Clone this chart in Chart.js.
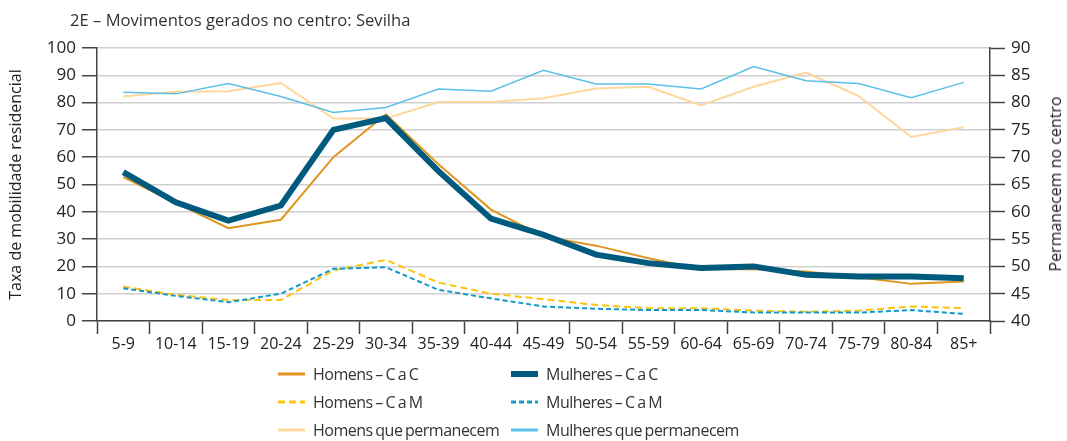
<!DOCTYPE html>
<html><head><meta charset="utf-8">
<script src="https://cdn.jsdelivr.net/npm/chart.js@4.4.1/dist/chart.umd.min.js"></script>
<style>
html,body{margin:0;padding:0;background:#fff;}
#wrap{position:relative;width:1067px;height:441px;font-family:"Open Sans",sans-serif;color:#333;overflow:hidden;}
#c{position:absolute;left:0;top:0;}
#title{position:absolute;left:70px;top:8px;font-size:16.6px;color:#333;white-space:nowrap;}
#rtitle{position:absolute;left:1055px;top:184px;font-size:16px;color:#222;white-space:nowrap;transform:translate(-50%,-50%) rotate(-90deg);}
.leg{position:absolute;font-size:16px;letter-spacing:-0.5px;word-spacing:-1px;color:#333;white-space:nowrap;display:flex;align-items:center;height:20px;}
.leg canvas{margin-right:8px;}
</style></head>
<body>
<div id="wrap">
<canvas id="c" width="1067" height="441"></canvas>
<div id="title">2E – Movimentos gerados no centro: Sevilha</div>
<div id="rtitle"></div>
</div>
<script>
const categories = ['5-9','10-14','15-19','20-24','25-29','30-34','35-39','40-44','45-49','50-54','55-59','60-64','65-69','70-74','75-79','80-84','85+'];
const homensCaC    = [52.7,43.3,34.0,37.1,60.0,75.7,57.4,40.8,31.0,27.6,23.0,19.0,19.0,18.1,16.0,13.6,14.5];
const mulheresCaC  = [54.5,43.5,36.8,42.3,70.0,74.3,54.9,37.5,31.6,24.3,21.2,19.4,20.0,16.9,16.3,16.3,15.7];
const homensCaM    = [12.6,9.6,7.7,7.7,18.5,22.4,14.1,10.0,8.0,5.9,4.7,4.7,3.8,3.4,3.8,5.3,4.7];
const mulheresCaM  = [12.0,9.2,6.9,10.0,19.1,19.7,11.4,8.3,5.3,4.5,4.0,4.0,3.1,3.1,3.1,4.0,2.6];
const homensPerm   = [81.1,82.0,82.1,83.6,77.1,77.1,80.1,80.1,80.8,82.6,82.9,79.5,82.9,85.5,81.2,73.7,75.5];
const mulheresPerm = [81.9,81.6,83.5,81.1,78.2,79.1,82.5,82.1,85.9,83.4,83.4,82.5,86.6,84.0,83.5,80.9,83.7];
const leftTitle = 'Taxa de mobilidade residencial';
const rightTitle = 'Permanecem no centro';

const FONT = '"Open Sans", sans-serif';
const AX = '#444';

const datasets = [
  {label:'Homens – C a C', data:homensCaC, borderColor:'#E0961E', borderWidth:2, yAxisID:'y', order:2, legendW:3},
  {label:'Mulheres – C a C', data:mulheresCaC, borderColor:'#005A7D', borderWidth:6, yAxisID:'y', order:1, legendW:6},
  {label:'Homens – C a M', data:homensCaM, borderColor:'#FFC20E', borderWidth:2, borderDash:[7,4], yAxisID:'y', order:4, legendW:3},
  {label:'Mulheres – C a M', data:mulheresCaM, borderColor:'#1199C8', borderWidth:2, borderDash:[5,3], yAxisID:'y', order:3, legendW:3},
  {label:'Homens que permanecem', data:homensPerm, borderColor:'#FFD69C', borderWidth:2, yAxisID:'y1', order:6, legendW:3},
  {label:'Mulheres que permanecem', data:mulheresPerm, borderColor:'#5BC0E8', borderWidth:1.5, yAxisID:'y1', order:5, legendW:3}
];
datasets.forEach(d=>{d.pointRadius=0; d.fill=false; d.tension=0;});

document.getElementById('rtitle').textContent = rightTitle;

const tickFont = {family:FONT, size:16};
const chart = new Chart(document.getElementById('c'), {
  type:'line',
  data:{labels:categories, datasets:datasets},
  options:{
    responsive:false, animation:false,
    layout:{padding:{top:48,left:0,right:0,bottom:0}},
    plugins:{legend:{display:false}, tooltip:{enabled:false}},
    scales:{
      x:{
        offset:true,
        grid:{offset:true, drawOnChartArea:false, drawTicks:true, tickLength:13, tickColor:AX, tickWidth:1.5},
        border:{color:AX, width:1.5},
        ticks:{color:'#222', font:tickFont, padding:1, maxRotation:0, autoSkip:false},
        afterFit(s){s.height=120;}
      },
      y:{
        position:'left', min:0, max:100,
        ticks:{stepSize:10, color:'#222', font:{family:FONT,size:17}, padding:6},
        grid:{color:'#cfcfcf', lineWidth:1.5, tickLength:15, tickColor:AX, tickWidth:1.5},
        border:{color:AX, width:1.5},
        title:{display:true, text:leftTitle, color:'#222', font:{family:FONT,size:16}, padding:{top:7,bottom:0}},
        afterFit(s){s.width=97;}
      },
      y1:{
        position:'right', min:40, max:90,
        ticks:{stepSize:5, color:'#222', font:{family:FONT,size:17}, padding:6},
        grid:{drawOnChartArea:false, tickLength:15, tickColor:AX, tickWidth:1.5},
        border:{color:AX, width:1.5},
        title:{display:false},
        afterFit(s){s.width=77;}
      }
    }
  }
});

// HTML legend built from datasets (2 columns x 3 rows)
const wrap = document.getElementById('wrap');
const colX = [278, 511];
const rowY = [364, 392, 420];
datasets.forEach((d,i)=>{
  const el = document.createElement('div');
  el.className='leg';
  el.style.left = colX[i%2]+'px';
  el.style.top = rowY[Math.floor(i/2)]+'px';
  const sw = document.createElement('canvas');
  sw.width=27; sw.height=20;
  const ctx = sw.getContext('2d');
  ctx.strokeStyle=d.borderColor; ctx.lineWidth=d.legendW;
  if(d.borderDash) ctx.setLineDash(d.borderDash);
  ctx.beginPath(); ctx.moveTo(0,10); ctx.lineTo(27,10); ctx.stroke();
  el.appendChild(sw);
  const t = document.createElement('span'); t.textContent=d.label;
  el.appendChild(t);
  wrap.appendChild(el);
});
</script>
</body></html>
